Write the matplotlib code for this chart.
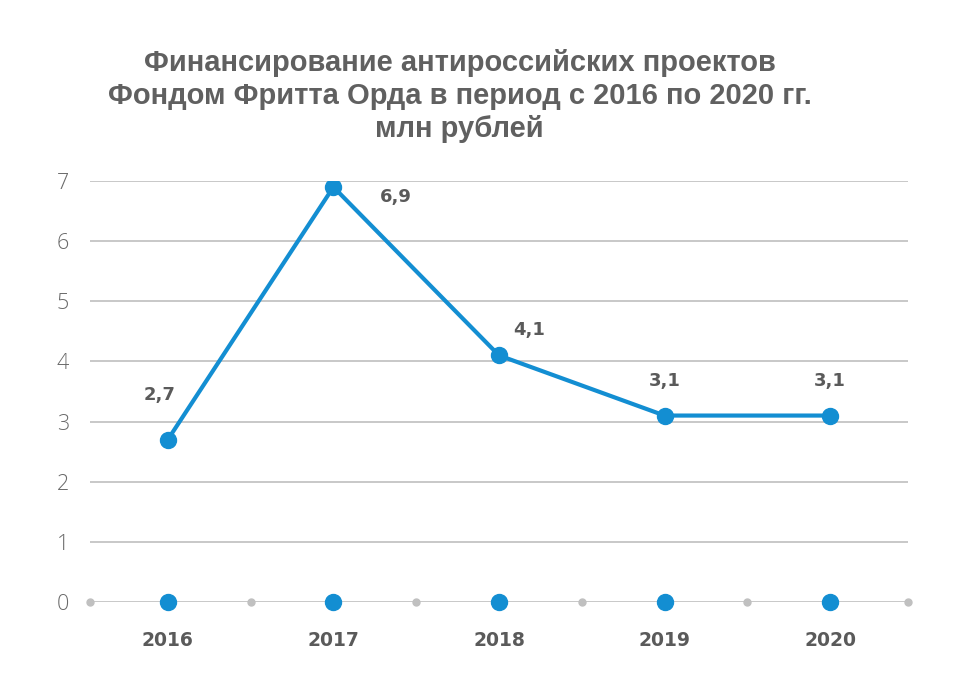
import matplotlib
matplotlib.use('Agg')
import matplotlib.pyplot as plt
from matplotlib import font_manager

# data
years = ['2016', '2017', '2018', '2019', '2020']
funding = [2.7, 6.9, 4.1, 3.1, 3.1]
zero_series = [0, 0, 0, 0, 0]
labels = ['2,7', '6,9', '4,1', '3,1', '3,1']
# label offsets in points (dx, dy)
label_offsets = [(-6, 32), (45, -7), (22, 18), (0, 25), (0, 25)]

names = {f.name for f in font_manager.fontManager.ttflist}
title_font = 'Liberation Sans Narrow' if 'Liberation Sans Narrow' in names else 'Liberation Sans'

blue = '#138ed2'
gray_txt = '#5a5a5a'
grid_col = '#c4c4c4'

fig = plt.figure(figsize=(9.72, 6.98), dpi=100)
ax = fig.add_axes([90 / 972, 96 / 698, (908 - 90) / 972, (602 - 181) / 698])

x = list(range(len(years)))
ax.plot(x, funding, color=blue, lw=3.0, marker='o', ms=11.5, mfc=blue, mec=blue, zorder=3)
ax.plot(x, zero_series, ls='none', marker='o', ms=11.5, color=blue, zorder=4, clip_on=False)

for xi, v, t, (dx, dy) in zip(x, funding, labels, label_offsets):
    ax.annotate(t, (xi, v), xytext=(dx, dy), textcoords='offset points',
                ha='center', va='center', fontsize=13, fontweight='bold',
                color=gray_txt, family='DejaVu Sans')

ax.set_xlim(-0.47, 4.47)
ax.set_ylim(0, 7)
ax.set_yticks(range(8))
ax.yaxis.grid(True, color=grid_col, lw=1.3)
ax.set_axisbelow(True)
for s in ax.spines.values():
    s.set_visible(False)
ax.tick_params(axis='y', length=0, pad=15, labelsize=15.5, labelcolor='#6a6a6a')
for lab in ax.get_yticklabels():
    lab.set_family('Open Sans')
    lab.set_fontweight('light')

ax.set_xticks(x)
ax.set_xticklabels(years, fontsize=13.5, fontweight='bold', color=gray_txt, family='DejaVu Sans')
ax.tick_params(axis='x', length=0, pad=21)

# small gray dots on the baseline between categories
sep = [i - 0.5 for i in range(len(years) + 1)]
sep[0] = -0.47
sep[-1] = 4.47
ax.plot(sep, [0] * len(sep), ls='none', marker='o', ms=5, color='#c0c0c0', zorder=2, clip_on=False)

fig.text(0.473, 0.862, 'Финансирование антироссийских проектов\nФондом Фритта Орда в период с 2016 по 2020 гг.\nмлн рублей',
         ha='center', va='center', fontsize=21, fontweight='bold', color='#606060',
         family=title_font, linespacing=1.22)

fig.savefig('out.png', dpi=100, facecolor='white')
